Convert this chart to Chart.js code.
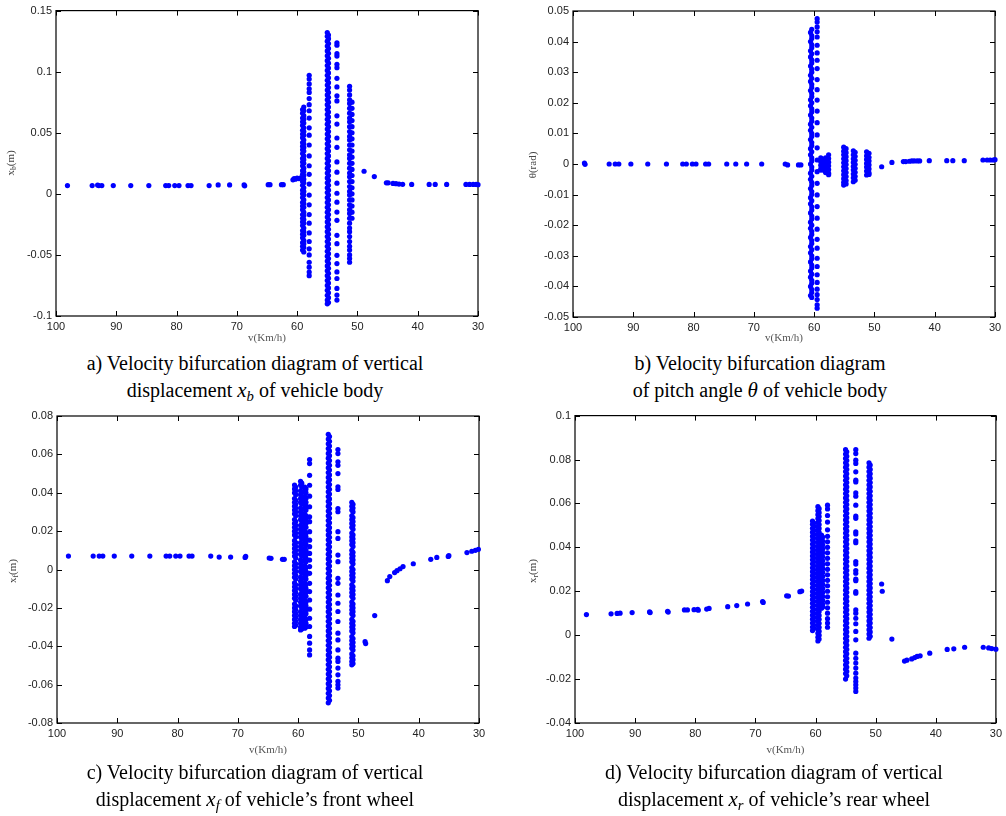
<!DOCTYPE html>
<html>
<head>
<meta charset="utf-8">
<script src="https://cdn.jsdelivr.net/npm/chart.js@4/dist/chart.umd.min.js"></script>
<style>
  body { margin: 0; background: #fff; width: 1006px; height: 816px; position: relative; overflow: hidden;
         font-family: "Liberation Serif", "Times New Roman", serif; }
  canvas { position: absolute; }
  .cap { position: absolute; font-size: 20px; line-height: 27px; text-align: center; color: #000;
         white-space: nowrap; transform: translateX(-50%); }
  .cap i { font-size: 21px; }
  .cap sub, .ytitle sub { font-size: 0.7em; vertical-align: -0.3em; line-height: 0; }
  .ytitle { position: absolute; font-size: 11px; color: #444; white-space: nowrap;
            transform: translate(-50%, -50%) rotate(-90deg); }
</style>
</head>
<body>

<canvas id="ca" width="500" height="350" style="left:0;top:0"></canvas>
<canvas id="cb" width="506" height="350" style="left:500px;top:0"></canvas>
<canvas id="cc" width="500" height="357" style="left:0;top:405px"></canvas>
<canvas id="cd" width="506" height="357" style="left:500px;top:405px"></canvas>

<div class="ytitle" style="left:10px;top:163px">x<sub>b</sub>(m)</div>
<div class="ytitle" style="left:532px;top:165px">θ(rad)</div>
<div class="ytitle" style="left:12px;top:571px">x<sub>f</sub>(m)</div>
<div class="ytitle" style="left:532px;top:571px">x<sub>r</sub>(m)</div>

<div class="cap" style="left:255px;top:350px">a) Velocity bifurcation diagram of vertical<br>displacement <i>x<sub>b</sub></i> of vehicle body</div>
<div class="cap" style="left:760px;top:350px">b) Velocity bifurcation diagram<br>of pitch angle <i>θ</i> of vehicle body</div>
<div class="cap" style="left:255px;top:759px">c) Velocity bifurcation diagram of vertical<br>displacement <i>x<sub>f</sub></i> of vehicle’s front wheel</div>
<div class="cap" style="left:774px;top:759px">d) Velocity bifurcation diagram of vertical<br>displacement <i>x<sub>r</sub></i> of vehicle’s rear wheel</div>

<script>
// speed axis (km/h), shared by all four panels
const speedMin = 30;
const speedMax = 100;
const speedStep = 10;

// ---- a) vertical displacement of body x_b (m)
const aLineSpeed = [98.1, 94.0, 93.1, 92.9, 92.4, 90.5, 87.6, 84.6, 81.8, 81.3, 80.3, 79.6, 78.1, 77.6, 74.6, 73.1, 71.2, 68.8, 68.7,
  64.8, 64.5, 62.6, 62.3, 60.7, 60.5, 60.3, 60.0, 59.7, 59.4,
  48.9, 47.2, 45.2, 44.9, 44.1, 43.6, 43.1, 42.5, 41.0, 38.1, 37.1, 35.2, 32.0, 31.4, 30.8, 30.3, 30.0];
const aLineValue = [0.0068, 0.0068, 0.0072, 0.0068, 0.0068, 0.0068, 0.0068, 0.0068, 0.0068, 0.0068, 0.0068, 0.0068, 0.0068, 0.0068, 0.0068, 0.0073, 0.0073, 0.0073, 0.0066,
  0.0075, 0.0075, 0.0075, 0.0075, 0.0115, 0.0125, 0.012, 0.0128, 0.0125, 0.013,
  0.0185, 0.0141, 0.009, 0.009, 0.0085, 0.0083, 0.008, 0.0078, 0.0077, 0.0077, 0.0077, 0.0077, 0.0077, 0.0077, 0.0077, 0.0077, 0.0075];
const aColumnSpeed = [58.9, 59.1, 58.0, 55.0, 54.8, 53.4, 51.3, 50.9];
const aColumnValues = [
  [0.071, 0.068, 0.064, 0.061, 0.058, 0.054, 0.051, 0.048, 0.044, 0.041, 0.038, 0.035, 0.031, 0.028, 0.025, 0.021, 0.018, 0.015, 0.012,
   0.009, 0.005, 0.002, -0.001, -0.005, -0.008, -0.011, -0.015, -0.018, -0.021, -0.024, -0.028, -0.031, -0.034, -0.038, -0.041, -0.044, -0.0476],
  [0.069, 0.066, 0.062, 0.059, 0.056, 0.052, 0.049, 0.046, 0.042, 0.039, 0.036, 0.033, 0.029, 0.026, 0.023, 0.019, 0.016, 0.013, 0.010,
   0.007, 0.003, 0.000, -0.003, -0.007, -0.010, -0.013, -0.017, -0.020, -0.023, -0.026, -0.030, -0.033, -0.036, -0.040, -0.043, -0.046],
  [0.097, 0.094, 0.090, 0.086, 0.083, 0.078, 0.073, 0.068, 0.062, 0.054, 0.048, 0.040, 0.031, 0.023, 0.016, 0.008, -0.001, -0.009,
   -0.017, -0.024, -0.032, -0.039, -0.045, -0.050, -0.056, -0.060, -0.064, -0.067],
  [0.132, 0.129, 0.125, 0.121, 0.117, 0.113, 0.109, 0.105, 0.101, 0.097, 0.093, 0.089, 0.085, 0.081, 0.077, 0.073, 0.069, 0.065, 0.061,
   0.057, 0.053, 0.049, 0.045, 0.041, 0.037, 0.033, 0.029, 0.025, 0.021, 0.017, 0.013, 0.009, 0.005, 0.001, -0.003, -0.007, -0.011,
   -0.015, -0.019, -0.023, -0.027, -0.031, -0.035, -0.039, -0.043, -0.047, -0.051, -0.055, -0.059, -0.063, -0.067, -0.071, -0.075,
   -0.079, -0.083, -0.087, -0.090],
  [0.130, 0.127, 0.123, 0.119, 0.115, 0.111, 0.107, 0.103, 0.099, 0.095, 0.091, 0.087, 0.083, 0.079, 0.075, 0.071, 0.067, 0.063, 0.059,
   0.055, 0.051, 0.047, 0.043, 0.039, 0.035, 0.031, 0.027, 0.023, 0.019, 0.015, 0.011, 0.007, 0.003, -0.001, -0.005, -0.009, -0.013,
   -0.017, -0.021, -0.025, -0.029, -0.033, -0.037, -0.041, -0.045, -0.049, -0.053, -0.057, -0.061, -0.065, -0.069, -0.073, -0.077,
   -0.081, -0.085, -0.089],
  [0.1236, 0.1217, 0.1147, 0.1128, 0.106, 0.1033, 0.0946, 0.0875, 0.0802, 0.0761, 0.0639, 0.0571, 0.0457, 0.0381, 0.0261, 0.0177,
   0.0087, 0.0005, -0.0068, -0.0149, -0.0217, -0.034, -0.0408, -0.0503, -0.0571, -0.0639, -0.0693, -0.0774, -0.0829, -0.087],
  [0.088, 0.085, 0.081, 0.077, 0.074, 0.070, 0.066, 0.062, 0.059, 0.055, 0.051, 0.047, 0.044, 0.040, 0.036, 0.032, 0.029, 0.025, 0.021,
   0.017, 0.014, 0.010, 0.006, 0.002, -0.001, -0.005, -0.009, -0.013, -0.016, -0.020, -0.024, -0.028, -0.031, -0.035, -0.039, -0.043,
   -0.046, -0.050, -0.053, -0.056],
  [0.075, 0.070, 0.065, 0.060, 0.055, 0.050, 0.045, 0.040, 0.035, 0.030, 0.025, 0.020, 0.015, 0.010, 0.005, 0.000, -0.005, -0.010, -0.015, -0.020]
];

// ---- b) pitch angle theta (rad)
const bLineSpeed = [98.1, 98.0, 94.0, 93.0, 92.4, 90.4, 87.6, 84.5, 81.8, 81.2, 80.2, 79.6, 78.0, 77.5, 74.5, 73.0, 71.2, 68.7, 64.8, 64.4, 62.6, 62.2,
  48.8, 47.1, 45.2, 44.8, 44.2, 43.8, 43.4, 42.9, 42.5, 40.9, 38.0, 37.0, 35.1, 32.0, 31.3, 30.8, 30.3, 30.0];
const bLineValue = [0.0003, -0.0001, 0, 0, 0, 0, 0, 0, 0, 0, 0, 0, 0, 0, 0, 0, 0, 0, 0, -0.0003, -0.0003, -0.0003,
  -0.0009, 0.0005, 0.0008, 0.0008, 0.0009, 0.001, 0.001, 0.001, 0.001, 0.0011, 0.0011, 0.0011, 0.0011, 0.0013, 0.0013, 0.0013, 0.0013, 0.0014];
const bColumnSpeed = [60.4, 60.6, 59.5, 58.9, 58.5, 58.1, 57.6, 55.1, 54.7, 53.5, 53.2, 51.3, 50.9];
const bColumnValues = [
  [0.044, 0.042, 0.041, 0.039, 0.038, 0.036, 0.034, 0.033, 0.031, 0.030, 0.028, 0.026, 0.025, 0.023, 0.022, 0.020, 0.018, 0.017, 0.015,
   0.014, 0.012, 0.010, 0.009, 0.007, 0.006, 0.004, 0.002, 0.001, -0.001, -0.002, -0.004, -0.006, -0.007, -0.009, -0.010, -0.012,
   -0.014, -0.015, -0.017, -0.018, -0.020, -0.022, -0.023, -0.025, -0.026, -0.028, -0.030, -0.031, -0.033, -0.034, -0.036, -0.038,
   -0.039, -0.041, -0.042, -0.0436],
  [0.043, 0.040, 0.037, 0.035, 0.032, 0.029, 0.027, 0.024, 0.021, 0.019, 0.016, 0.013, 0.011, 0.008, 0.005, 0.003, 0.000, -0.003,
   -0.005, -0.008, -0.011, -0.013, -0.016, -0.019, -0.021, -0.024, -0.027, -0.029, -0.032, -0.035, -0.037, -0.040, -0.043],
  [0.0475, 0.0464, 0.0448, 0.0432, 0.0415, 0.0388, 0.0363, 0.0339, 0.0312, 0.0276, 0.0243, 0.0209, 0.0173, 0.0135, 0.0095, 0.0053,
   0.0013, -0.0025, -0.0063, -0.0101, -0.0139, -0.0177, -0.0213, -0.0246, -0.0275, -0.0308, -0.0335, -0.0362, -0.0387, -0.0409,
   -0.0427, -0.0443, -0.046, -0.0471],
  [0.002, 0.0008, -0.0004, -0.0016, -0.002],
  [0.0015, 0.0003, -0.0009, -0.002],
  [0.002, 0.0008, -0.0004, -0.0016, -0.0028],
  [0.003, 0.0018, 0.0006, -0.0006, -0.0018, -0.003, -0.0035],
  [0.0055, 0.0042, 0.003, 0.0017, 0.0004, -0.0009, -0.0022, -0.0035, -0.0048, -0.006, -0.0069],
  [0.005, 0.0037, 0.0024, 0.0011, -0.0002, -0.0015, -0.0028, -0.0041, -0.0054, -0.0065],
  [0.0043, 0.003, 0.0017, 0.0005, -0.0008, -0.002, -0.0033, -0.0045, -0.0058],
  [0.0038, 0.0025, 0.0012, -0.0001, -0.0014, -0.0027, -0.004, -0.0053],
  [0.004, 0.0027, 0.0015, 0.0002, -0.001, -0.0023, -0.0036],
  [0.0035, 0.0022, 0.001, -0.0003, -0.0016, -0.0029, -0.0034]
];

// ---- c) front wheel x_f (m)
const cLineSpeed = [98.1, 94.0, 93.0, 92.4, 90.5, 87.6, 84.6, 81.9, 81.3, 80.3, 79.6, 78.1, 77.6, 74.5, 73.1, 71.2, 68.8, 68.7, 64.8, 64.5, 62.6, 62.3,
  48.9, 48.8, 47.3, 45.2, 44.8, 44.0, 43.6, 43.1, 42.6, 40.9, 38.0, 37.0, 35.1, 35.0, 32.0, 31.2, 30.6, 30.1];
const cLineValue = [0.007, 0.007, 0.007, 0.007, 0.007, 0.007, 0.007, 0.007, 0.007, 0.007, 0.007, 0.007, 0.007, 0.007, 0.0065, 0.0065, 0.0063, 0.0068, 0.006, 0.0058, 0.0053, 0.0053,
  -0.0376, -0.0386, -0.024, -0.0058, -0.0037, -0.0016, -0.0006, 0.0004, 0.0015, 0.003, 0.0053, 0.0063, 0.0068, 0.0072, 0.0088, 0.0095, 0.01, 0.0105];
const cColumnSpeed = [60.6, 60.4, 59.6, 59.4, 58.9, 58.7, 58.1, 55.0, 54.8, 53.4, 51.1, 50.9];
const cColumnValues = [
  [0.044, 0.042, 0.040, 0.037, 0.035, 0.033, 0.031, 0.029, 0.026, 0.024, 0.022, 0.020, 0.018, 0.015, 0.013, 0.011, 0.009, 0.007, 0.004,
   0.002, 0.000, -0.002, -0.004, -0.007, -0.009, -0.011, -0.013, -0.015, -0.018, -0.020, -0.022, -0.024, -0.026, -0.028, -0.0297],
  [0.043, 0.041, 0.039, 0.036, 0.034, 0.032, 0.030, 0.028, 0.025, 0.023, 0.021, 0.019, 0.017, 0.014, 0.012, 0.010, 0.008, 0.006, 0.003,
   0.001, -0.001, -0.003, -0.005, -0.008, -0.010, -0.012, -0.014, -0.016, -0.019, -0.021, -0.023, -0.025, -0.027, -0.029],
  [0.046, 0.044, 0.041, 0.039, 0.037, 0.035, 0.032, 0.030, 0.028, 0.026, 0.023, 0.021, 0.019, 0.017, 0.014, 0.012, 0.010, 0.008, 0.005,
   0.003, 0.001, -0.001, -0.004, -0.006, -0.008, -0.010, -0.013, -0.015, -0.017, -0.019, -0.022, -0.024, -0.026, -0.028, -0.030, -0.0315],
  [0.045, 0.043, 0.040, 0.038, 0.036, 0.034, 0.031, 0.029, 0.027, 0.025, 0.022, 0.020, 0.018, 0.016, 0.013, 0.011, 0.009, 0.007, 0.004,
   0.002, 0.000, -0.002, -0.005, -0.007, -0.009, -0.011, -0.014, -0.016, -0.018, -0.020, -0.023, -0.025, -0.027, -0.029, -0.031],
  [0.043, 0.041, 0.038, 0.036, 0.034, 0.032, 0.029, 0.027, 0.025, 0.023, 0.020, 0.018, 0.016, 0.014, 0.011, 0.009, 0.007, 0.005, 0.002,
   0.000, -0.002, -0.004, -0.007, -0.009, -0.011, -0.013, -0.016, -0.018, -0.020, -0.022, -0.025, -0.027, -0.029, -0.0306],
  [0.042, 0.040, 0.037, 0.035, 0.033, 0.031, 0.028, 0.026, 0.024, 0.022, 0.019, 0.017, 0.015, 0.013, 0.010, 0.008, 0.006, 0.004, 0.001,
   -0.001, -0.003, -0.005, -0.008, -0.010, -0.012, -0.014, -0.017, -0.019, -0.021, -0.023, -0.026, -0.028, -0.030],
  [0.0573, 0.0552, 0.0491, 0.0439, 0.0382, 0.0327, 0.0275, 0.0249, 0.0197, 0.0153, 0.0119, 0.0084, 0.0049, 0.0015, -0.002, -0.0072,
   -0.0115, -0.0159, -0.0207, -0.0254, -0.0297, -0.0349, -0.0384, -0.0419, -0.0445],
  [0.0705, 0.068, 0.0655, 0.063, 0.0605, 0.058, 0.0555, 0.053, 0.0505, 0.048, 0.0455, 0.043, 0.0405, 0.038, 0.0355, 0.033, 0.0305,
   0.028, 0.0255, 0.023, 0.0205, 0.018, 0.0155, 0.013, 0.0105, 0.008, 0.0055, 0.003, 0.0005, -0.002, -0.0045, -0.007, -0.0095, -0.012,
   -0.0145, -0.017, -0.0195, -0.022, -0.0245, -0.027, -0.0295, -0.032, -0.0345, -0.037, -0.0395, -0.042, -0.0445, -0.047, -0.0495,
   -0.052, -0.0545, -0.057, -0.0595, -0.062, -0.0645, -0.067, -0.0695],
  [0.0693, 0.0668, 0.0643, 0.0618, 0.0593, 0.0568, 0.0543, 0.0518, 0.0493, 0.0468, 0.0443, 0.0418, 0.0393, 0.0368, 0.0343, 0.0318,
   0.0293, 0.0268, 0.0243, 0.0218, 0.0193, 0.0168, 0.0143, 0.0118, 0.0093, 0.0068, 0.0043, 0.0018, -0.0007, -0.0032, -0.0057, -0.0082,
   -0.0107, -0.0132, -0.0157, -0.0182, -0.0207, -0.0232, -0.0257, -0.0282, -0.0307, -0.0332, -0.0357, -0.0382, -0.0407, -0.0432,
   -0.0457, -0.0482, -0.0507, -0.0532, -0.0557, -0.0582, -0.0607, -0.0632, -0.0657, -0.0682],
  [0.0625, 0.0604, 0.0561, 0.0543, 0.05, 0.0431, 0.0417, 0.0318, 0.0301, 0.0197, 0.0162, 0.0075, 0.0041, -0.0046, -0.0072, -0.0133,
   -0.0176, -0.0219, -0.0271, -0.0332, -0.0367, -0.0419, -0.0462, -0.0479, -0.0514, -0.0549, -0.0583, -0.0601, -0.0618],
  [0.035, 0.033, 0.031, 0.028, 0.026, 0.024, 0.022, 0.019, 0.017, 0.015, 0.013, 0.010, 0.008, 0.006, 0.004, 0.001, -0.001, -0.003,
   -0.005, -0.008, -0.010, -0.012, -0.014, -0.017, -0.019, -0.021, -0.023, -0.026, -0.028, -0.030, -0.032, -0.035, -0.037, -0.039,
   -0.041, -0.044, -0.046, -0.048, -0.0497],
  [0.034, 0.032, 0.030, 0.027, 0.025, 0.023, 0.021, 0.018, 0.016, 0.014, 0.012, 0.009, 0.007, 0.005, 0.003, 0.000, -0.002, -0.004,
   -0.006, -0.009, -0.011, -0.013, -0.015, -0.018, -0.020, -0.022, -0.024, -0.027, -0.029, -0.031, -0.033, -0.036, -0.038, -0.040,
   -0.042, -0.045, -0.047, -0.049]
];

// ---- d) rear wheel x_r (m)
const dLineSpeed = [98.1, 94.0, 93.0, 92.5, 90.5, 87.6, 87.5, 84.6, 84.5, 81.8, 81.3, 80.2, 79.6, 79.5, 78.1, 77.7, 74.6, 73.1, 71.3, 68.8, 68.7,
  64.8, 64.5, 62.6, 62.3, 49.0, 48.9, 47.3, 45.2, 44.8, 44.0, 43.5, 43.1, 42.6, 41.0, 38.1, 37.0, 35.2, 32.1, 31.2, 30.7, 30.0];
const dLineValue = [0.0094, 0.0097, 0.0099, 0.01, 0.0103, 0.0106, 0.0103, 0.0109, 0.0105, 0.0115, 0.0115, 0.0116, 0.0118, 0.0114, 0.0119, 0.0122,
  0.013, 0.0135, 0.0142, 0.0153, 0.0149, 0.0179, 0.0178, 0.0198, 0.0201, 0.0233, 0.02, -0.0018, -0.0118, -0.0114, -0.0108, -0.0102,
  -0.0097, -0.0094, -0.0082, -0.0065, -0.0062, -0.0055, -0.0055, -0.0058, -0.0061, -0.0064];
const dColumnSpeed = [60.5, 60.3, 59.6, 59.4, 59.0, 58.8, 58.0, 55.0, 54.8, 53.3, 51.1, 50.9];
const dColumnValues = [
  [0.052, 0.0505, 0.0487, 0.0469, 0.0451, 0.0433, 0.0415, 0.0397, 0.0379, 0.0361, 0.0343, 0.0325, 0.0307, 0.0289, 0.0271, 0.0253,
   0.0235, 0.0217, 0.0199, 0.0181, 0.0163, 0.0145, 0.0127, 0.0109, 0.0091, 0.0073, 0.0055, 0.0037, 0.0021],
  [0.0511, 0.0496, 0.0478, 0.046, 0.0442, 0.0424, 0.0406, 0.0388, 0.037, 0.0352, 0.0334, 0.0316, 0.0298, 0.028, 0.0262, 0.0244,
   0.0226, 0.0208, 0.019, 0.0172, 0.0154, 0.0136, 0.0118, 0.01, 0.0082, 0.0064, 0.0046, 0.003],
  [0.0585, 0.0567, 0.0549, 0.0531, 0.0513, 0.0495, 0.0477, 0.0459, 0.0441, 0.0423, 0.0405, 0.0387, 0.0369, 0.0351, 0.0333, 0.0315,
   0.0297, 0.0279, 0.0261, 0.0243, 0.0225, 0.0207, 0.0189, 0.0171, 0.0153, 0.0135, 0.0117, 0.0099, 0.0081, 0.0063, 0.0045, 0.0027,
   0.0009, -0.0009, -0.0026],
  [0.0576, 0.0558, 0.054, 0.0522, 0.0504, 0.0486, 0.0468, 0.045, 0.0432, 0.0414, 0.0396, 0.0378, 0.036, 0.0342, 0.0324, 0.0306,
   0.0288, 0.027, 0.0252, 0.0234, 0.0216, 0.0198, 0.018, 0.0162, 0.0144, 0.0126, 0.0108, 0.009, 0.0072, 0.0054, 0.0036, 0.0018,
   0.0, -0.0018],
  [0.0456, 0.0438, 0.042, 0.0402, 0.0384, 0.0366, 0.0348, 0.033, 0.0312, 0.0294, 0.0276, 0.0258, 0.024, 0.0222, 0.0204, 0.0186,
   0.0168, 0.015, 0.0132, 0.0123],
  [0.0447, 0.0429, 0.0411, 0.0393, 0.0375, 0.0357, 0.0339, 0.0321, 0.0303, 0.0285, 0.0267, 0.0249, 0.0231, 0.0213, 0.0195, 0.0177,
   0.0159, 0.0141, 0.0128],
  [0.0592, 0.0575, 0.0545, 0.0515, 0.048, 0.045, 0.0425, 0.04, 0.0375, 0.035, 0.0325, 0.03, 0.0275, 0.025, 0.0225, 0.02, 0.0175,
   0.015, 0.0125, 0.01, 0.0075, 0.0055, 0.0036],
  [0.0845, 0.0825, 0.0805, 0.0785, 0.0765, 0.0745, 0.0725, 0.0705, 0.0685, 0.0665, 0.0645, 0.0625, 0.0605, 0.0585, 0.0565, 0.0545,
   0.0525, 0.0505, 0.0485, 0.0465, 0.0445, 0.0425, 0.0405, 0.0385, 0.0365, 0.0345, 0.0325, 0.0305, 0.0285, 0.0265, 0.0245, 0.0225,
   0.0205, 0.0185, 0.0165, 0.0145, 0.0125, 0.0105, 0.0085, 0.0065, 0.0045, 0.0025, 0.0005, -0.0015, -0.0035, -0.0055, -0.0075,
   -0.0095, -0.0115, -0.0135, -0.0155, -0.0175, -0.02],
  [0.0835, 0.0815, 0.0795, 0.0775, 0.0755, 0.0735, 0.0715, 0.0695, 0.0675, 0.0655, 0.0635, 0.0615, 0.0595, 0.0575, 0.0555, 0.0535,
   0.0515, 0.0495, 0.0475, 0.0455, 0.0435, 0.0415, 0.0395, 0.0375, 0.0355, 0.0335, 0.0315, 0.0295, 0.0275, 0.0255, 0.0235, 0.0215,
   0.0195, 0.0175, 0.0155, 0.0135, 0.0115, 0.0095, 0.0075, 0.0055, 0.0035, 0.0015, -0.0005, -0.0025, -0.0045, -0.0065, -0.0085,
   -0.0105, -0.0125, -0.0145, -0.0165, -0.0185],
  [0.0845, 0.0827, 0.0797, 0.0782, 0.0744, 0.0706, 0.0698, 0.0648, 0.0633, 0.0592, 0.0542, 0.0532, 0.0471, 0.0461, 0.043, 0.0421,
   0.0335, 0.0324, 0.0294, 0.0282, 0.0255, 0.0248, 0.0198, 0.0191, 0.0115, 0.01, 0.0077, 0.0052, 0.0017, -0.0021, -0.0082, -0.0105,
   -0.0127, -0.015, -0.0173, -0.0195, -0.0211, -0.0226, -0.0241, -0.0256],
  [0.0785, 0.0765, 0.0745, 0.0725, 0.0705, 0.0685, 0.0665, 0.0645, 0.0625, 0.0605, 0.0585, 0.0565, 0.0545, 0.0525, 0.0505, 0.0485,
   0.0465, 0.0445, 0.0425, 0.0405, 0.0385, 0.0365, 0.0345, 0.0325, 0.0305, 0.0285, 0.0265, 0.0245, 0.0225, 0.0205, 0.0185, 0.0165,
   0.0145, 0.0125, 0.0105, 0.0085, 0.0065, 0.0045, 0.0025, 0.0005, -0.0014],
  [0.0775, 0.0755, 0.0735, 0.0715, 0.0695, 0.0675, 0.0655, 0.0635, 0.0615, 0.0595, 0.0575, 0.0555, 0.0535, 0.0515, 0.0495, 0.0475,
   0.0455, 0.0435, 0.0415, 0.0395, 0.0375, 0.0355, 0.0335, 0.0315, 0.0295, 0.0275, 0.0255, 0.0235, 0.0215, 0.0195, 0.0175, 0.0155,
   0.0135, 0.0115, 0.0095, 0.0075, 0.0055, 0.0035, 0.0015, -0.0005]
];

// box with inward ticks on all four sides, like the MATLAB axes
const frameBox = {
  id: 'frameBox',
  beforeDatasetsDraw(chart) {
    const { ctx, chartArea: a, scales: { x, y } } = chart;
    ctx.save();
    ctx.strokeStyle = '#000';
    ctx.lineWidth = 1.2;
    ctx.strokeRect(a.left, a.top, a.right - a.left, a.bottom - a.top);
    ctx.lineWidth = 1;
    ctx.beginPath();
    x.ticks.forEach(t => {
      const px = Math.round(x.getPixelForValue(t.value)) + 0.5;
      ctx.moveTo(px, a.bottom); ctx.lineTo(px, a.bottom - 5);
      ctx.moveTo(px, a.top); ctx.lineTo(px, a.top + 5);
    });
    y.ticks.forEach(t => {
      const py = Math.round(y.getPixelForValue(t.value)) + 0.5;
      ctx.moveTo(a.left, py); ctx.lineTo(a.left + 5, py);
      ctx.moveTo(a.right, py); ctx.lineTo(a.right - 5, py);
    });
    ctx.stroke();
    ctx.restore();
  }
};

function toPoints(lineSpeed, lineValue, colSpeed, colValues) {
  const pts = lineSpeed.map((s, i) => ({ x: s, y: lineValue[i] }));
  colSpeed.forEach((s, k) => colValues[k].forEach(v => pts.push({ x: s, y: v })));
  return pts;
}

const panels = [
  { id: 'ca', pts: toPoints(aLineSpeed, aLineValue, aColumnSpeed, aColumnValues), yMin: -0.1, yMax: 0.15, yStep: 0.05,
    yWidth: 56, pad: { left: 0, right: 22, top: 9, bottom: 0 }, xHeight: 34 },
  { id: 'cb', pts: toPoints(bLineSpeed, bLineValue, bColumnSpeed, bColumnValues), yMin: -0.05, yMax: 0.05, yStep: 0.01,
    yWidth: 73, pad: { left: 0, right: 11, top: 11, bottom: 0 }, xHeight: 33 },
  { id: 'cc', pts: toPoints(cLineSpeed, cLineValue, cColumnSpeed, cColumnValues), yMin: -0.08, yMax: 0.08, yStep: 0.02,
    yWidth: 57, pad: { left: 0, right: 21, top: 11, bottom: 0 }, xHeight: 39 },
  { id: 'cd', pts: toPoints(dLineSpeed, dLineValue, dColumnSpeed, dColumnValues), yMin: -0.04, yMax: 0.1, yStep: 0.02,
    yWidth: 75, pad: { left: 0, right: 9, top: 10, bottom: 0 }, xHeight: 39 }
];

const tickFont = { family: '"Liberation Sans", Arial, sans-serif', size: 11 };

panels.forEach(p => {
  new Chart(document.getElementById(p.id).getContext('2d'), {
    type: 'scatter',
    data: {
      datasets: [{
        data: p.pts,
        backgroundColor: '#0000ff',
        borderWidth: 0,
        pointRadius: 2.6,
        pointHoverRadius: 2.6,
        clip: 6
      }]
    },
    options: {
      responsive: false,
      animation: false,
      layout: { padding: p.pad },
      plugins: { legend: { display: false }, tooltip: { enabled: false } },
      scales: {
        x: {
          type: 'linear',
          reverse: true,
          min: speedMin,
          max: speedMax,
          afterFit: s => { s.height = p.xHeight; },
          grid: { display: false, drawTicks: false },
          border: { display: false },
          ticks: { stepSize: speedStep, autoSkip: false, maxRotation: 0, padding: 4, color: '#222', font: tickFont },
          title: {
            display: true, text: 'v(Km/h)', color: '#555',
            font: { family: '"Liberation Serif", "Times New Roman", serif', size: 11 },
            padding: { top: 0, bottom: 5 }
          }
        },
        y: {
          min: p.yMin,
          max: p.yMax,
          afterFit: s => { s.width = p.yWidth; },
          grid: { display: false, drawTicks: false },
          border: { display: false },
          ticks: {
            stepSize: p.yStep, autoSkip: false, padding: 4, color: '#222', font: tickFont,
            callback: v => String(+v.toFixed(4))
          }
        }
      }
    },
    plugins: [frameBox]
  });
});
</script>
</body>
</html>
